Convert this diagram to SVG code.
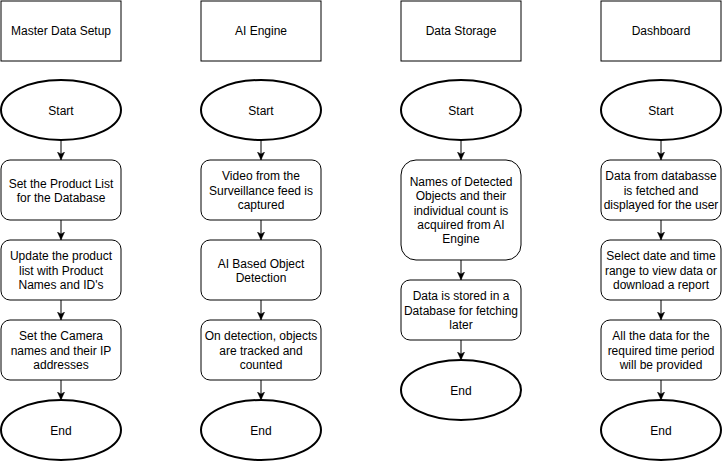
<svg xmlns="http://www.w3.org/2000/svg" width="723" height="462" viewBox="0 0 723 462">
<defs>
<style>
.hdr{fill:#fff;stroke:#000;stroke-width:1}
.box{fill:#fff;stroke:#000;stroke-width:1}
.term{fill:#fff;stroke:#000;stroke-width:2}
text{font-family:"Liberation Sans",Arial,sans-serif;font-size:12px;fill:#000;text-anchor:middle}
.edge{stroke:#000;stroke-width:1;fill:none}
</style>
<marker id="arr" viewBox="0 0 10 10" refX="10" refY="5" markerWidth="8" markerHeight="8" markerUnits="userSpaceOnUse" orient="auto">
<path d="M0,0.5 L10,5 L0,9.5 L2.5,5 Z" fill="#000" stroke="#000" stroke-width="0.5"/>
</marker>
</defs>
<rect width="723" height="462" fill="#fff"/>

<g id="connectors">
<line class="edge" x1="61" y1="140" x2="61" y2="160" marker-end="url(#arr)"/>
<line class="edge" x1="61" y1="220" x2="61" y2="240" marker-end="url(#arr)"/>
<line class="edge" x1="61" y1="300" x2="61" y2="320" marker-end="url(#arr)"/>
<line class="edge" x1="61" y1="380" x2="61" y2="400" marker-end="url(#arr)"/>
<line class="edge" x1="261" y1="140" x2="261" y2="160" marker-end="url(#arr)"/>
<line class="edge" x1="261" y1="220" x2="261" y2="240" marker-end="url(#arr)"/>
<line class="edge" x1="261" y1="300" x2="261" y2="320" marker-end="url(#arr)"/>
<line class="edge" x1="261" y1="380" x2="261" y2="400" marker-end="url(#arr)"/>
<line class="edge" x1="461" y1="140" x2="461" y2="160" marker-end="url(#arr)"/>
<line class="edge" x1="461" y1="260" x2="461" y2="280" marker-end="url(#arr)"/>
<line class="edge" x1="461" y1="340" x2="461" y2="360" marker-end="url(#arr)"/>
<line class="edge" x1="661" y1="140" x2="661" y2="160" marker-end="url(#arr)"/>
<line class="edge" x1="661" y1="220" x2="661" y2="240" marker-end="url(#arr)"/>
<line class="edge" x1="661" y1="300" x2="661" y2="320" marker-end="url(#arr)"/>
<line class="edge" x1="661" y1="380" x2="661" y2="400" marker-end="url(#arr)"/>
</g>

<!-- Column 1 -->
<g id="hdr-master"><rect class="hdr" x="1" y="1" width="120" height="60"/><text x="61" y="34.5">Master Data Setup</text></g>
<g id="start-master"><ellipse class="term" cx="61" cy="110" rx="60" ry="30"/><text x="61" y="114.5">Start</text></g>
<g id="m1"><rect class="box" x="1" y="160" width="120" height="60" rx="9"/><text x="61" y="187.5">Set the Product List</text><text x="61" y="201.9">for the Database</text></g>
<g id="m2"><rect class="box" x="1" y="240" width="120" height="60" rx="9"/><text x="61" y="260.1">Update the product</text><text x="61" y="274.5">list with Product</text><text x="61" y="288.9">Names and ID's</text></g>
<g id="m3"><rect class="box" x="1" y="320" width="120" height="60" rx="9"/><text x="61" y="340.1">Set the Camera</text><text x="61" y="354.5">names and their IP</text><text x="61" y="368.9">addresses</text></g>
<g id="end-master"><ellipse class="term" cx="61" cy="430" rx="60" ry="30"/><text x="61" y="434.5">End</text></g>

<!-- Column 2 -->
<g id="hdr-ai"><rect class="hdr" x="201" y="1" width="120" height="60"/><text x="261" y="34.5">AI Engine</text></g>
<g id="start-ai"><ellipse class="term" cx="261" cy="110" rx="60" ry="30"/><text x="261" y="114.5">Start</text></g>
<g id="a1"><rect class="box" x="201" y="160" width="120" height="60" rx="9"/><text x="261" y="180.1">Video from the</text><text x="261" y="194.5">Surveillance feed is</text><text x="261" y="208.9">captured</text></g>
<g id="a2"><rect class="box" x="201" y="240" width="120" height="60" rx="9"/><text x="261" y="267.5">AI Based Object</text><text x="261" y="281.9">Detection</text></g>
<g id="a3"><rect class="box" x="201" y="320" width="120" height="60" rx="9"/><text x="261" y="340.1">On detection, objects</text><text x="261" y="354.5">are tracked and</text><text x="261" y="368.9">counted</text></g>
<g id="end-ai"><ellipse class="term" cx="261" cy="430" rx="60" ry="30"/><text x="261" y="434.5">End</text></g>

<!-- Column 3 -->
<g id="hdr-storage"><rect class="hdr" x="401" y="1" width="120" height="60"/><text x="461" y="34.5">Data Storage</text></g>
<g id="start-storage"><ellipse class="term" cx="461" cy="110" rx="60" ry="30"/><text x="461" y="114.5">Start</text></g>
<g id="s1"><rect class="box" x="401" y="160" width="120" height="100" rx="15"/><text x="461" y="185.7">Names of Detected</text><text x="461" y="200.1">Objects and their</text><text x="461" y="214.5">individual count is</text><text x="461" y="228.9">acquired from AI</text><text x="461" y="243.3">Engine</text></g>
<g id="s2"><rect class="box" x="401" y="280" width="120" height="60" rx="9"/><text x="461" y="300.1">Data is stored in a</text><text x="461" y="314.5">Database for fetching</text><text x="461" y="328.9">later</text></g>
<g id="end-storage"><ellipse class="term" cx="461" cy="390" rx="60" ry="30"/><text x="461" y="394.5">End</text></g>

<!-- Column 4 -->
<g id="hdr-dash"><rect class="hdr" x="601" y="1" width="120" height="60"/><text x="661" y="34.5">Dashboard</text></g>
<g id="start-dash"><ellipse class="term" cx="661" cy="110" rx="60" ry="30"/><text x="661" y="114.5">Start</text></g>
<g id="d1"><rect class="box" x="601" y="160" width="120" height="60" rx="9"/><text x="661" y="180.1">Data from databasse</text><text x="661" y="194.5">is fetched and</text><text x="661" y="208.9">displayed for the user</text></g>
<g id="d2"><rect class="box" x="601" y="240" width="120" height="60" rx="9"/><text x="661" y="260.1">Select date and time</text><text x="661" y="274.5">range to view data or</text><text x="661" y="288.9">download a report</text></g>
<g id="d3"><rect class="box" x="601" y="320" width="120" height="60" rx="9"/><text x="661" y="340.1">All the data for the</text><text x="661" y="354.5">required time period</text><text x="661" y="368.9">will be provided</text></g>
<g id="end-dash"><ellipse class="term" cx="661" cy="430" rx="60" ry="30"/><text x="661" y="434.5">End</text></g>
</svg>
